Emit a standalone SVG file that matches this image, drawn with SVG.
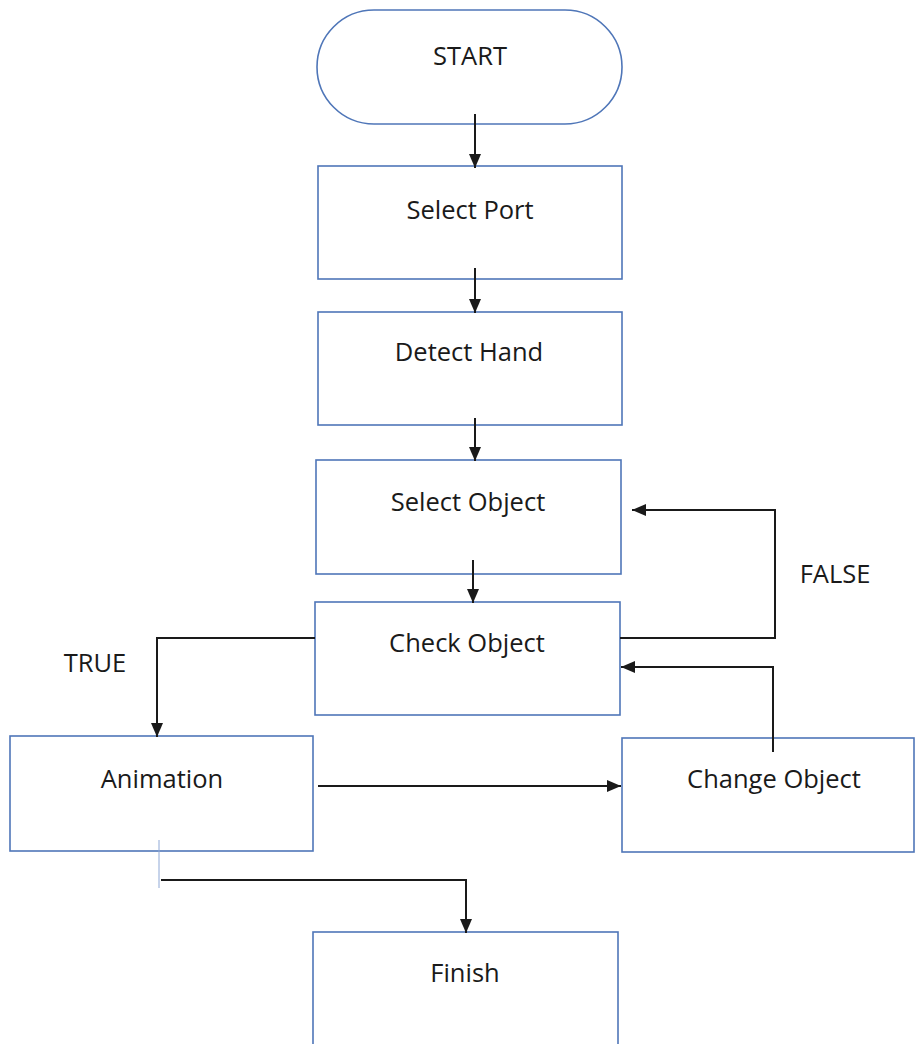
<svg xmlns="http://www.w3.org/2000/svg" width="916" height="1044" viewBox="0 0 916 1044">
  <style>
    .box { fill: #ffffff; stroke: #4f76b8; stroke-width: 1.6; }
    .lbl { font-family: "Open Sans", "Liberation Sans", sans-serif; font-size: 25.5px; fill: #1a1a1a; text-anchor: middle; }
    .edge { fill: none; stroke: #1a1a1a; stroke-width: 2; }
    .tick { fill: none; stroke: #8fa8d6; stroke-width: 1; }
  </style>
  <defs>
    <marker id="arrow" viewBox="0 0 14 12" refX="14" refY="6" markerWidth="14" markerHeight="12" markerUnits="userSpaceOnUse" orient="auto">
      <path d="M0,0 L14,6 L0,12 Z" fill="#1a1a1a"/>
    </marker>
  </defs>
  <rect width="916" height="1044" fill="#ffffff"/>

  <g id="start">
    <rect class="box" x="317" y="10" width="305" height="114" rx="57" ry="57"/>
    <text class="lbl" x="470" y="65">START</text>
  </g>
  <g id="select-port">
    <rect class="box" x="318" y="166" width="304" height="113"/>
    <text class="lbl" x="470" y="219">Select Port</text>
  </g>
  <g id="detect-hand">
    <rect class="box" x="318" y="312" width="304" height="113"/>
    <text class="lbl" x="469" y="361">Detect Hand</text>
  </g>
  <g id="select-object">
    <rect class="box" x="316" y="460" width="305" height="114"/>
    <text class="lbl" x="468" y="511">Select Object</text>
  </g>
  <g id="check-object">
    <rect class="box" x="315" y="602" width="305" height="113"/>
    <text class="lbl" x="467" y="652">Check Object</text>
  </g>
  <g id="animation">
    <rect class="box" x="10" y="736" width="303" height="115"/>
    <text class="lbl" x="162" y="788">Animation</text>
  </g>
  <g id="change-object">
    <rect class="box" x="622" y="738" width="292" height="114"/>
    <text class="lbl" x="774" y="788">Change Object</text>
  </g>
  <g id="finish">
    <rect class="box" x="313" y="932" width="305" height="120"/>
    <text class="lbl" x="465" y="982">Finish</text>
  </g>

  <g id="connectors">
    <path class="edge" d="M475,114 V168" marker-end="url(#arrow)"/>
    <path class="edge" d="M475,268 V313" marker-end="url(#arrow)"/>
    <path class="edge" d="M475,418 V461" marker-end="url(#arrow)"/>
    <path class="edge" d="M473,560 V603" marker-end="url(#arrow)"/>
    <path class="edge" d="M620,638 H775 V510 H632" marker-end="url(#arrow)"/>
    <path class="edge" d="M315,638 H157 V737" marker-end="url(#arrow)"/>
    <path class="edge" d="M318,786 H621" marker-end="url(#arrow)"/>
    <path class="edge" d="M773,752 V667 H621" marker-end="url(#arrow)"/>
    <path class="tick" d="M159,840 V888"/>
    <path class="edge" d="M161,880 H466 V933" marker-end="url(#arrow)"/>
  </g>

  <g id="edge-labels">
    <text class="lbl" x="835" y="583">FALSE</text>
    <text class="lbl" x="95" y="672">TRUE</text>
  </g>
</svg>
